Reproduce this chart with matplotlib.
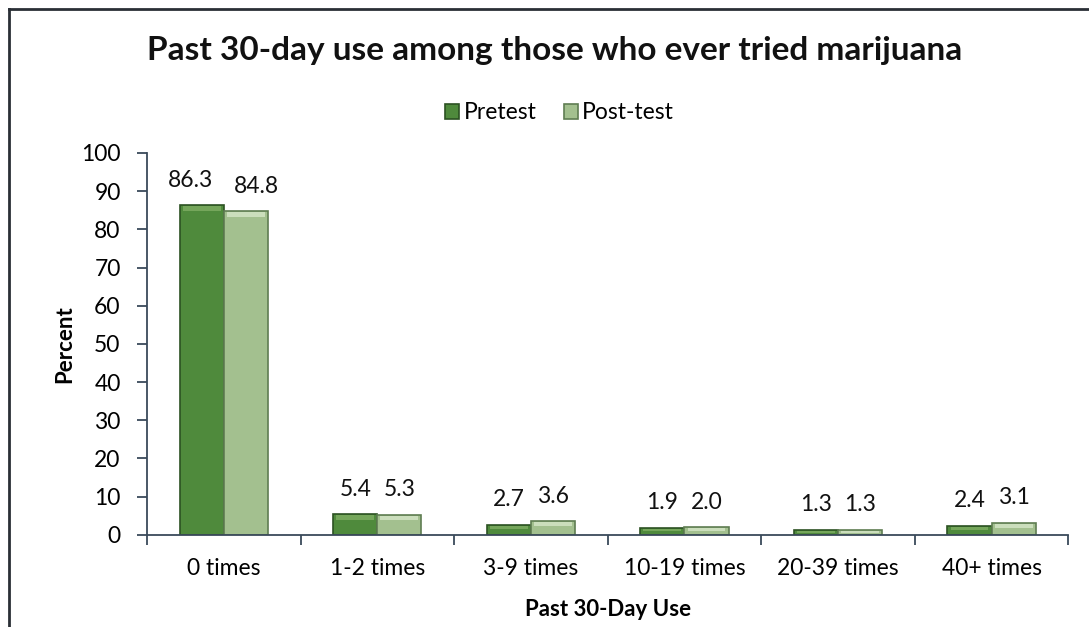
import matplotlib
matplotlib.use("Agg")
import matplotlib.pyplot as plt
import numpy as np
from matplotlib.lines import Line2D

categories = ["0 times", "1-2 times", "3-9 times", "10-19 times", "20-39 times", "40+ times"]
pretest = [86.3, 5.4, 2.7, 1.9, 1.3, 2.4]
posttest = [84.8, 5.3, 3.6, 2.0, 1.3, 3.1]
series_names = ["Pretest", "Post-test"]
yticks = [0, 10, 20, 30, 40, 50, 60, 70, 80, 90, 100]

plt.rcParams["font.family"] = ["Lato", "DejaVu Sans"]

fig = plt.figure(figsize=(10.89, 6.27), dpi=100)
ax = fig.add_axes([0.135, 0.147, 0.846, 0.609])

x = np.arange(len(categories))
w = 0.287
pre_col, pre_edge, pre_hi = "#4f8a3c", "#2c5222", "#7fae63"
post_col, post_edge, post_hi = "#a3c08f", "#5f7d52", "#d6e6c8"

b1 = ax.bar(x - w / 2, pretest, w, color=pre_col, edgecolor=pre_edge, linewidth=1.2,
            label=series_names[0], zorder=2)
b2 = ax.bar(x + w / 2, posttest, w, color=post_col, edgecolor=post_edge, linewidth=1.2,
            label=series_names[1], zorder=2)

# bevelled top face on each bar
for offs, vals, hi in ((-w / 2, pretest, pre_hi), (w / 2, posttest, post_hi)):
    vals = np.asarray(vals)
    cap = np.minimum(vals * 0.3, 1.2)
    ax.bar(x + offs, cap, w * 0.86, bottom=vals - cap - 0.3, color=hi,
           linewidth=0, zorder=3, alpha=0.8)

# value labels; labels of tall neighbouring bars are spread apart so they don't collide
for side, bars, vals in ((-1, b1, pretest), (1, b2, posttest)):
    for rect, v in zip(bars, vals):
        dx = side * 8 if v > 50 else 0
        ax.annotate(f"{v:.1f}", (rect.get_x() + rect.get_width() / 2, v),
                    xytext=(dx, 18), textcoords="offset points",
                    ha="center", va="center", fontsize=16.5, color="#111111")

ax.set_xlim(-0.5, len(categories) - 0.5)
ax.set_ylim(0, 100)
ax.set_yticks(yticks)
ax.set_yticklabels([str(t) for t in yticks], fontsize=16.5)
ax.set_xticks(x)
ax.set_xticklabels(categories, fontsize=16.5)
ax.set_xticks(np.arange(len(categories) + 1) - 0.5, minor=True)
ax.tick_params(axis="x", which="major", length=0, pad=17)
ax.tick_params(axis="x", which="minor", length=7, width=1.3, color="#3a4a5a", direction="out")
ax.tick_params(axis="y", length=7, width=1.3, color="#3a4a5a", pad=12)

for side in ("top", "right"):
    ax.spines[side].set_visible(False)
for side in ("left", "bottom"):
    ax.spines[side].set_color("#3a4a5a")
    ax.spines[side].set_linewidth(1.3)

ax.set_ylabel("Percent", fontsize=16, fontweight="bold", labelpad=4)
ax.set_xlabel("Past 30-Day Use", fontsize=16, fontweight="bold", labelpad=14)

fig.text(0.509, 0.92, "Past 30-day use among those who ever tried marijuana",
         ha="center", va="center", fontsize=24, fontweight="bold", color="#111111")

fig.legend(handles=[b1, b2], labels=series_names, loc="center", bbox_to_anchor=(0.514, 0.82),
           ncol=2, frameon=False, fontsize=16.5, handlelength=0.6, handleheight=0.6,
           handletextpad=0.2, columnspacing=1.2)

# chart frame (top and left edges)
fig.add_artist(Line2D([0.0083, 1.0], [0.985, 0.985], color="#2a2f36", lw=2))
fig.add_artist(Line2D([0.0083, 0.0083], [0.0, 0.985], color="#2a2f36", lw=2))

fig.savefig("out.png", dpi=100)
